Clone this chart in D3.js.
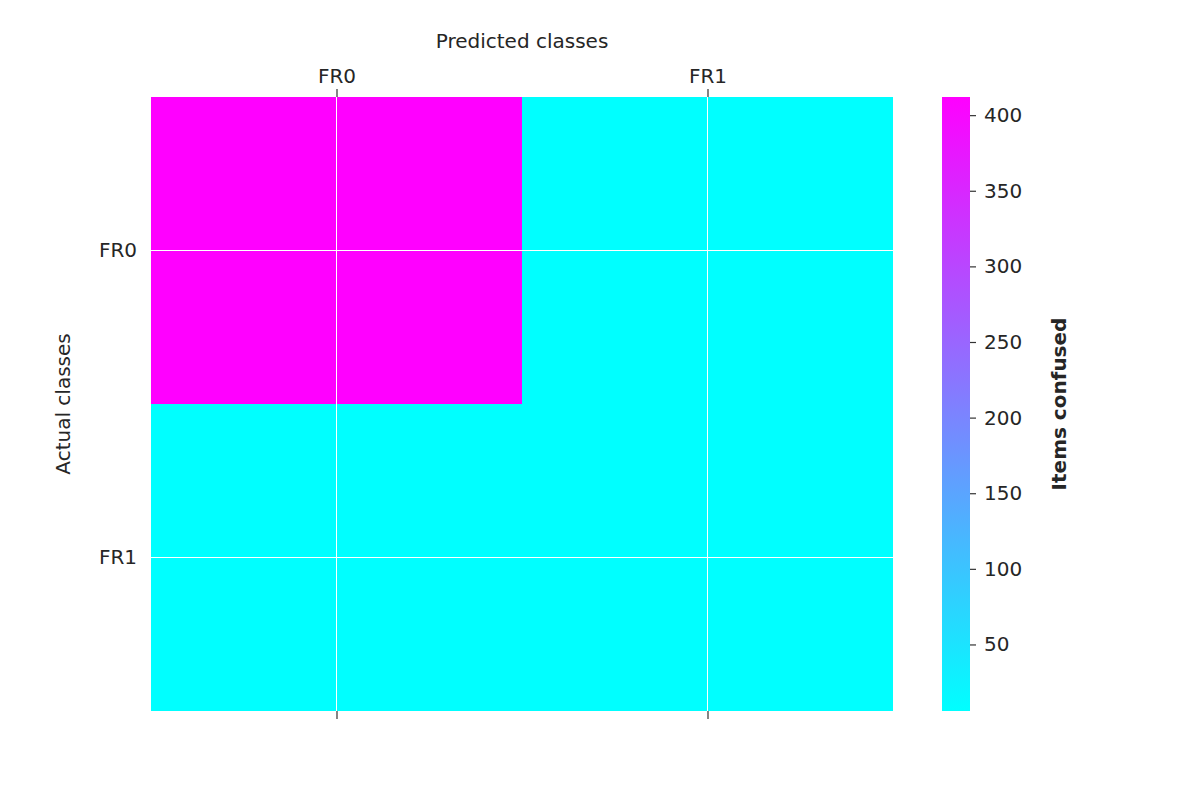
<!DOCTYPE html>
<html><head><meta charset="utf-8">
<script src="https://cdn.jsdelivr.net/npm/d3@7"></script>
<style>body{margin:0;background:#fff}text{font-family:"DejaVu Sans";fill:#262626}</style>
</head><body><svg id="c" width="1200" height="800"></svg>
<script>
const classes = ["FR0","FR1"];
const values = [[412,6],[6,6]];
const cbTicks = [50,100,150,200,250,300,350,400];
const vmin = 6, vmax = 412;

const svg = d3.select("#c");
const L=151,R=893,T=97,B=711;
const x = d3.scaleBand().domain(classes).range([L,R]);
const y = d3.scaleBand().domain(classes).range([T,B]);
const color = d3.scaleLinear().domain([vmin,vmax]).range(["#00ffff","#ff00ff"]).interpolate(d3.interpolateRgb);

const cells=[];
values.forEach((row,i)=>row.forEach((v,j)=>cells.push({r:classes[i],c:classes[j],v})));
svg.selectAll("rect.cell").data(cells).join("rect")
  .attr("x",d=>x(d.c)).attr("y",d=>y(d.r)).attr("width",x.bandwidth()).attr("height",y.bandwidth())
  .attr("fill",d=>color(d.v)).attr("shape-rendering","crispEdges");

// grid lines
classes.forEach(c=>{
  svg.append("line").attr("x1",x(c)+x.bandwidth()/2).attr("x2",x(c)+x.bandwidth()/2).attr("y1",T).attr("y2",B).attr("stroke","#fff").attr("stroke-width",1);
  svg.append("line").attr("y1",y(c)+y.bandwidth()/2).attr("y2",y(c)+y.bandwidth()/2).attr("x1",L).attr("x2",R).attr("stroke","#fff").attr("stroke-width",1);
});

const xs = d3.scalePoint().domain(classes).range([x("FR0")+x.bandwidth()/2, x("FR1")+x.bandwidth()/2]);
const ys = d3.scalePoint().domain(classes).range([y("FR0")+y.bandwidth()/2, y("FR1")+y.bandwidth()/2]);
function style(g){g.select(".domain").remove();g.selectAll("line").attr("stroke","#333").attr("stroke-width",1.2);g.selectAll("text").style("font-size","20px").attr("fill","#262626").style("font-family","DejaVu Sans");}
svg.append("g").attr("transform",`translate(0,${T})`).call(d3.axisTop(xs).tickSize(8).tickPadding(6)).call(style);
svg.append("g").attr("transform",`translate(0,${B})`).call(d3.axisBottom(xs).tickSize(8).tickFormat("")).call(style);
svg.append("g").attr("transform",`translate(${L},0)`).call(d3.axisLeft(ys).tickSize(0).tickPadding(14)).call(style);

svg.append("text").attr("x",522).attr("y",48).attr("text-anchor","middle").style("font-size","20px").text("Predicted classes");
svg.append("text").attr("transform","translate(70,404) rotate(-90)").attr("text-anchor","middle").style("font-size","20px").text("Actual classes");

// colorbar
const cbX=942,cbW=28;
const cy = d3.scaleLinear().domain([vmin,vmax]).range([B,T]);
const defs=svg.append("defs");
const grad=defs.append("linearGradient").attr("id","g").attr("x1",0).attr("y1",1).attr("x2",0).attr("y2",0);
grad.append("stop").attr("offset",0).attr("stop-color",color(vmin));
grad.append("stop").attr("offset",1).attr("stop-color",color(vmax));
svg.append("rect").attr("x",cbX).attr("y",T).attr("width",cbW).attr("height",B-T).attr("fill","url(#g)");
svg.append("g").attr("transform",`translate(${cbX+cbW},0)`).call(d3.axisRight(cy).tickValues(cbTicks).tickSize(6).tickPadding(8)).call(style);
svg.append("text").attr("transform","translate(1066,404) rotate(-90)").attr("text-anchor","middle").style("font-size","20px").style("font-weight","bold").text("Items confused");
</script></body></html>
